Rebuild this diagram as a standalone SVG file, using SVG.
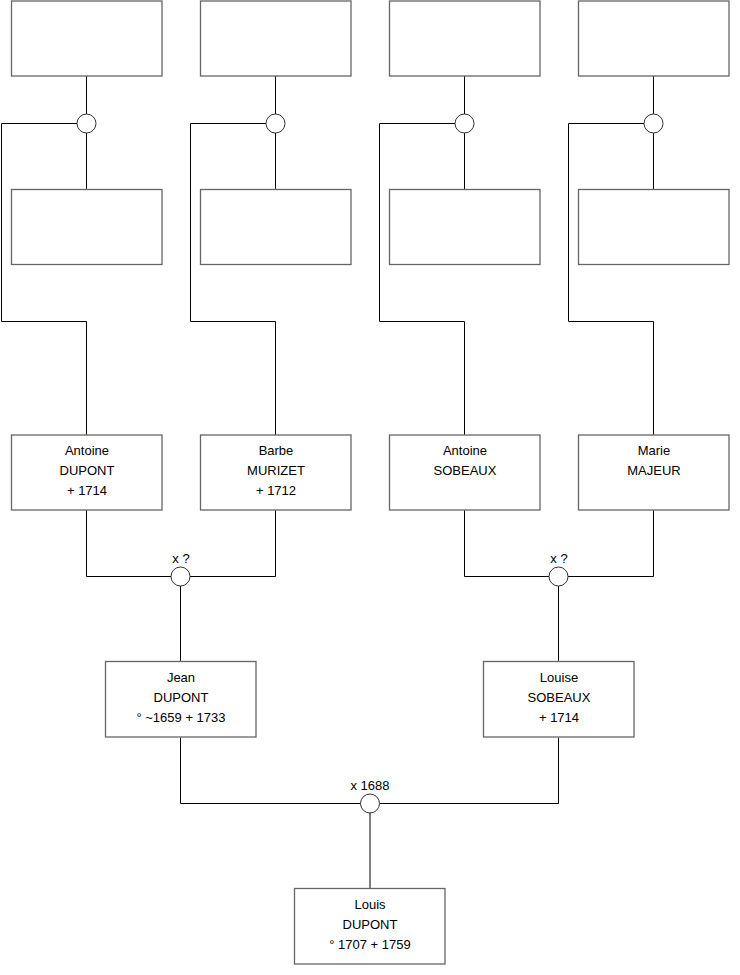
<svg xmlns="http://www.w3.org/2000/svg" width="740" height="975" viewBox="0 0 740 975">
<style>
.box{fill:#fff;stroke:#666;stroke-width:1.3}
.ln{fill:none;stroke:#000;stroke-width:1}
.ring{fill:#fff;stroke:#333;stroke-width:1}
text{font-family:"Liberation Sans",Arial,sans-serif;font-size:13px;fill:#000;text-anchor:middle}
</style>
<rect width="740" height="975" fill="#fff"/>
<g id="connectors">
<path class="ln" d="M86.5 76 V189.5 M86.5 123.5 H1.5 V321.5 H86.5 V435"/>
<path class="ln" d="M275.5 76 V189.5 M275.5 123.5 H190.5 V321.5 H275.5 V435"/>
<path class="ln" d="M464.5 76 V189.5 M464.5 123.5 H379.5 V321.5 H464.5 V435"/>
<path class="ln" d="M653.5 76 V189.5 M653.5 123.5 H568.5 V321.5 H653.5 V435"/>
<path class="ln" d="M86.5 510 V576.5 H275.5 V510 M180.5 576.5 V661.5"/>
<path class="ln" d="M464.5 510 V576.5 H653.5 V510 M558.5 576.5 V661.5"/>
<path class="ln" d="M180.5 737.5 V803.5 H558.5 V737.5 M370 803.5 V888.5"/>
</g>
<g id="unions">
<circle id="u1" class="ring" cx="86.5" cy="123.5" r="9.5"/>
<circle id="u2" class="ring" cx="275.5" cy="123.5" r="9.5"/>
<circle id="u3" class="ring" cx="464.5" cy="123.5" r="9.5"/>
<circle id="u4" class="ring" cx="653.5" cy="123.5" r="9.5"/>
<g id="u5"><circle class="ring" cx="180.5" cy="576.5" r="9.5"/><text x="181" y="563">x ?</text></g>
<g id="u6"><circle class="ring" cx="558.5" cy="576.5" r="9.5"/><text x="559" y="563">x ?</text></g>
<g id="u7"><circle class="ring" cx="370" cy="803.5" r="9.5"/><text x="370" y="790">x 1688</text></g>
</g>
<g id="p1"><rect class="box" x="11.5" y="1" width="150.5" height="75"/></g>
<g id="p2"><rect class="box" x="200.5" y="1" width="150.5" height="75"/></g>
<g id="p3"><rect class="box" x="389.5" y="1" width="150.5" height="75"/></g>
<g id="p4"><rect class="box" x="578.5" y="1" width="150.5" height="75"/></g>
<g id="p5"><rect class="box" x="11.5" y="189.5" width="150.5" height="75"/></g>
<g id="p6"><rect class="box" x="200.5" y="189.5" width="150.5" height="75"/></g>
<g id="p7"><rect class="box" x="389.5" y="189.5" width="150.5" height="75"/></g>
<g id="p8"><rect class="box" x="578.5" y="189.5" width="150.5" height="75"/></g>
<g id="antoine-dupont"><rect class="box" x="11.5" y="435" width="150.5" height="75"/><text x="87" y="455">Antoine</text><text x="87" y="475">DUPONT</text><text x="87" y="495">+ 1714</text></g>
<g id="barbe-murizet"><rect class="box" x="200.5" y="435" width="150.5" height="75"/><text x="276" y="455">Barbe</text><text x="276" y="475">MURIZET</text><text x="276" y="495">+ 1712</text></g>
<g id="antoine-sobeaux"><rect class="box" x="389.5" y="435" width="150.5" height="75"/><text x="465" y="455">Antoine</text><text x="465" y="475">SOBEAUX</text></g>
<g id="marie-majeur"><rect class="box" x="578.5" y="435" width="150.5" height="75"/><text x="654" y="455">Marie</text><text x="654" y="475">MAJEUR</text></g>
<g id="jean-dupont"><rect class="box" x="105.5" y="661.5" width="150.5" height="75.5"/><text x="181" y="682">Jean</text><text x="181" y="702">DUPONT</text><text x="181" y="722">° ~1659 + 1733</text></g>
<g id="louise-sobeaux"><rect class="box" x="483.5" y="661.5" width="150.5" height="75.5"/><text x="559" y="682">Louise</text><text x="559" y="702">SOBEAUX</text><text x="559" y="722">+ 1714</text></g>
<g id="louis-dupont"><rect class="box" x="294.5" y="888.5" width="150.5" height="75.5"/><text x="370" y="909">Louis</text><text x="370" y="929">DUPONT</text><text x="370" y="949">° 1707 + 1759</text></g>
</svg>
